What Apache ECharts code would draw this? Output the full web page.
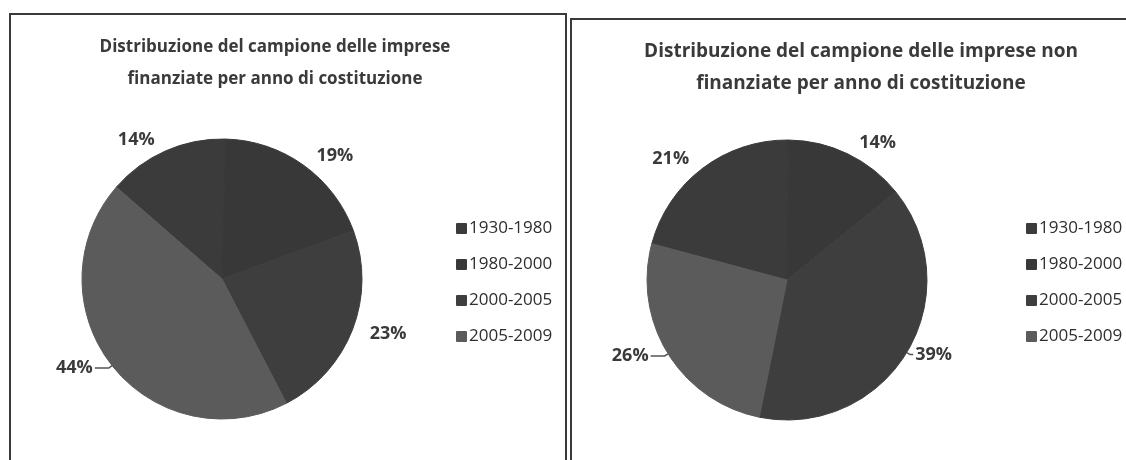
<!DOCTYPE html>
<html>
<head>
<meta charset="utf-8">
<script src="https://cdn.jsdelivr.net/npm/echarts@6/dist/echarts.min.js"></script>
<style>
  html, body { margin: 0; padding: 0; background: #fff; }
  body { width: 1126px; height: 460px; position: relative; overflow: hidden; }
  .panel {
    position: absolute;
    border: 2px solid #3a3a3a;
    border-bottom: none;
    box-sizing: border-box;
  }
  .panel-left { left: 9px; top: 13px; width: 558px; height: 460px; }
  .panel-right { left: 570px; top: 18px; width: 570px; height: 460px; }
  .chart { width: 100%; height: 100%; }
</style>
</head>
<body>
<div class="panel panel-left"><div id="leftChart" class="chart"></div></div>
<div class="panel panel-right"><div id="rightChart" class="chart"></div></div>
<script>
// periodi di costituzione (legenda)
const periods = ['1930-1980', '1980-2000', '2000-2005', '2005-2009'];
// quote % imprese finanziate
const financedShares = [14, 19, 23, 44];
// quote % imprese non finanziate
const nonFinancedShares = [21, 14, 39, 26];

const titleLeft = 'Distribuzione del campione delle imprese\nfinanziate per anno di costituzione';
const titleRight = 'Distribuzione del campione delle imprese non\nfinanziate per anno di costituzione';

const sliceColors = ['#3b3b3b', '#383838', '#3e3e3e', '#5b5b5b'];
const fontFamily = '"Open Sans", Lato, sans-serif';

// etichette con linea guida visibile: tratto radiale corto, orizzontale lungo
const makePieData = (values, lineOn) => periods.map((name, i) => ({
  name: name,
  value: values[i],
  itemStyle: { borderColor: sliceColors[i] },
  labelLine: lineOn[i]
    ? { show: true, length: 4, length2: lineOn[i] }
    : { show: false, length: 12, length2: 4 }
}));

const createPieOption = (cfg) => ({
  animation: false,
  color: sliceColors,
  title: {
    text: cfg.title,
    left: cfg.titleX,
    top: cfg.titleTop,
    textAlign: 'center',
    textStyle: {
      fontFamily: fontFamily,
      fontSize: cfg.titleSize,
      fontWeight: 'bold',
      color: '#3a3a3a',
      lineHeight: 32
    }
  },
  legend: {
    orient: 'vertical',
    left: cfg.legendX,
    top: cfg.legendTop,
    data: periods,
    icon: 'rect',
    itemWidth: 9,
    itemHeight: 9,
    itemGap: 19,
    selectedMode: false,
    textStyle: { fontFamily: fontFamily, fontSize: 17, color: '#2e2e2e', padding: [0, 0, 0, -2] }
  },
  series: [
    {
      type: 'pie',
      center: cfg.center,
      radius: 140,
      startAngle: cfg.startAngle,
      clockwise: true,
      avoidLabelOverlap: false,
      itemStyle: { borderWidth: 1 },
      label: {
        show: true,
        position: 'outside',
        formatter: '{c}%',
        fontFamily: fontFamily,
        fontSize: 18,
        fontWeight: 'bold',
        color: '#3a3a3a',
        distanceToLabelLine: 2
      },
      labelLine: {
        smooth: false,
        lineStyle: { color: '#555', width: 1.5 }
      },
      emphasis: { disabled: true },
      data: makePieData(cfg.values, cfg.lineOn)
    }
  ]
});

const initChart = (id, option) => {
  const chart = echarts.init(document.getElementById(id));
  chart.setOption(option);
  window.addEventListener('resize', () => chart.resize());
};

initChart('leftChart', createPieOption({
  title: titleLeft,
  titleX: 259,
  titleTop: 11,
  titleSize: 17,
  legendX: 440,
  legendTop: 200,
  center: [211, 264],
  startAngle: 139,
  values: financedShares,
  lineOn: [0, 0, 0, 14]
}));

initChart('rightChart', createPieOption({
  title: titleRight,
  titleX: 284,
  titleTop: 11,
  titleSize: 19,
  legendX: 449,
  legendTop: 195,
  center: [215, 260],
  startAngle: 165,
  values: nonFinancedShares,
  lineOn: [0, 0, 3, 14]
}));
</script>
</body>
</html>
